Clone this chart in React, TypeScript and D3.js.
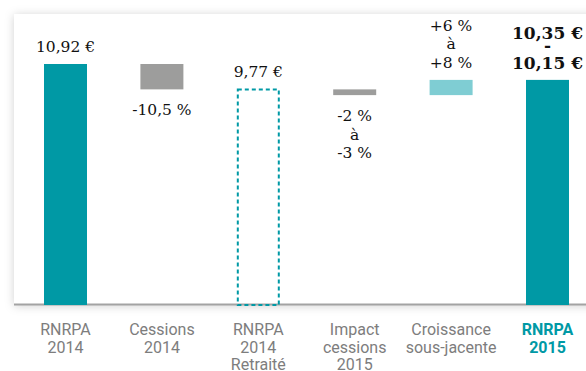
import React from "react";
import * as d3 from "d3";

// waterfall steps, € per share
const categories = ["RNRPA 2014", "Cessions 2014", "RNRPA 2014 Retraité", "Impact cessions 2015", "Croissance sous-jacente", "RNRPA 2015"];
const axisLines = [["RNRPA", "2014"], ["Cessions", "2014"], ["RNRPA", "2014", "Retraité"], ["Impact", "cessions", "2015"], ["Croissance", "sous-jacente"], ["RNRPA", "2015"]];
const barLow = [0, 9.77, 0, 9.51, 9.51, 0];
const barHigh = [10.92, 10.92, 9.77, 9.77, 10.2, 10.2];
const barKind = ["total", "down", "dashed", "down", "up", "total"];
const valueLines = [["10,92 €"], ["-10,5 %"], ["9,77 €"], ["-2 %", "à", "-3 %"], ["+6 %", "à", "+8 %"], ["10,35 €", "-", "10,15 €"]];
const labelBelow = [false, true, false, true, false, false];

const W = 586;
const H = 371;

export default function App() {
  const baseY = 305;
  const x = d3
    .scaleBand<string>()
    .domain(categories)
    .range([17.3, 595.7])
    .paddingInner(0.554)
    .paddingOuter(0.277);
  const y = d3.scaleLinear().domain([0, 10.92]).range([baseY, 64]);

  const fillFor = (k: string) =>
    k === "total" ? "#0099a5" : k === "down" ? "#9d9d9c" : k === "up" ? "#7fcdd3" : "none";

  return (
    <svg width={W} height={H} style={{ position: "absolute", left: 0, top: 0, background: "#fff" }}>
      <defs>
        <filter id="shadow" x="-10%" y="-10%" width="120%" height="120%">
          <feDropShadow dx="0" dy="1" stdDeviation="5" floodColor="#000" floodOpacity="0.18" />
        </filter>
      </defs>
      {/* panel */}
      <rect x={14} y={14} width={620} height={baseY - 14} fill="#fff" filter="url(#shadow)" />
      <line x1={14} x2={W} y1={baseY - 0.5} y2={baseY - 0.5} stroke="#a3a3a3" strokeWidth={2} />

      {categories.map((c, i) => {
        const x0 = x(c) ?? 0;
        const bw = x.bandwidth();
        const cx = x0 + bw / 2;
        const top = y(barHigh[i]);
        const bot = y(barLow[i]);
        const kind = barKind[i];
        const bold = i === categories.length - 1;
        const lines = valueLines[i];
        const lh = 18.5;
        const firstBase = labelBelow[i]
          ? bot + 26
          : bold
          ? top - 41
          : top - 12 - (lines.length - 1) * lh;
        const lineY = (j: number) => (bold ? firstBase + [0, 12, 30][j] : firstBase + j * lh);
        return (
          <g key={c}>
            {kind === "dashed" ? (
              <rect
                x={x0 + 1}
                y={top}
                width={bw - 2}
                height={bot - top}
                fill="none"
                stroke="#0099a5"
                strokeWidth={2}
                strokeDasharray="4,3"
              />
            ) : (
              <rect x={x0} y={top} width={bw} height={bot - top} fill={fillFor(kind)} />
            )}
            <text
              textAnchor="middle"
              fontFamily="'DejaVu Serif', serif"
              fontSize={bold ? 17 : 15.5}
              fontWeight={bold ? "bold" : "normal"}
              fill="#111"
            >
              {lines.map((t, j) => (
                <tspan key={j} x={cx} y={lineY(j)}>
                  {t}
                </tspan>
              ))}
            </text>
            <text
              textAnchor="middle"
              fontFamily="Roboto, sans-serif"
              fontSize={16}
              fontWeight={bold ? "bold" : "normal"}
              fill={bold ? "#0099a5" : "#7d7d7d"}
            >
              {axisLines[i].map((t, j) => (
                <tspan key={j} x={cx} y={335 + j * 17.5}>
                  {t}
                </tspan>
              ))}
            </text>
          </g>
        );
      })}
    </svg>
  );
}
